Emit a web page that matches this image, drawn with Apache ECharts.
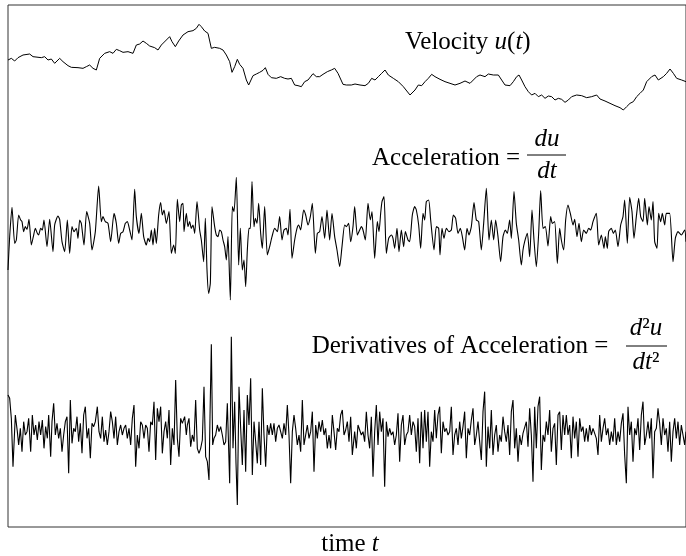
<!DOCTYPE html>
<html>
<head>
<meta charset="utf-8">
<script src="https://cdn.jsdelivr.net/npm/echarts@6.0.0/dist/echarts.min.js"></script>
<style>html,body{margin:0;padding:0;background:#fff;}#c{width:686px;height:556px;}</style>
</head>
<body>
<div id="c"></div>
<script>
// time t (arbitrary units, 0..2034) and signal values
const velocity = [[0,21],[10,26],[20,18],[30,28],[45,36],[65,39],[75,31],[100,28],[110,31],[120,21],[130,24],[140,11],[155,26],[165,16],[180,4],[190,-1],[210,-2],[225,-4],[235,1],[245,6],[255,-4],[265,-9],[275,26],[290,41],[305,46],[315,41],[325,53],[335,49],[345,44],[360,46],[375,41],[385,66],[395,69],[405,78],[415,71],[425,63],[440,58],[450,51],[460,66],[475,81],[485,91],[492,76],[502,61],[512,78],[525,96],[540,106],[555,109],[565,116],[573,128],[580,121],[590,108],[600,101],[610,56],[620,59],[635,56],[645,51],[655,36],[665,16],[672,-16],[680,1],[688,23],[695,8],[705,-4],[715,-39],[722,-54],[728,-49],[735,-26],[745,-21],[755,-16],[765,-10],[772,-2],[780,-22],[790,-32],[805,-34],[818,-29],[830,-34],[840,-36],[850,-34],[860,-54],[870,-56],[880,-59],[890,-44],[900,-39],[915,-20],[925,-29],[935,-29],[945,-22],[958,-14],[970,-9],[980,-4],[990,-19],[1005,-52],[1015,-54],[1030,-54],
[1041,-51],[1056,-54],[1071,-56],[1081,-49],[1091,-34],[1101,-39],[1111,-29],[1121,-19],[1131,-9],[1141,-24],[1156,-34],[1171,-44],[1186,-59],[1206,-84],[1221,-69],[1231,-54],[1241,-56],[1251,-44],[1261,-34],[1271,-22],[1281,-29],[1296,-37],[1311,-44],[1326,-49],[1341,-54],[1356,-49],[1371,-42],[1386,-49],[1396,-39],[1406,-29],[1416,-24],[1431,-29],[1441,-21],[1456,-24],[1471,-24],[1481,-39],[1491,-54],[1506,-56],[1516,-44],[1526,-29],[1533,-24],[1541,-39],[1551,-59],[1561,-74],[1571,-84],[1581,-79],[1591,-89],[1601,-84],[1611,-94],[1621,-87],[1631,-89],[1641,-99],[1651,-94],[1661,-97],[1671,-106],[1681,-99],[1691,-89],[1706,-84],[1721,-86],[1736,-92],[1751,-89],[1766,-84],[1776,-96],[1791,-102],[1806,-109],[1821,-116],[1836,-122],[1846,-129],[1856,-119],[1866,-109],[1876,-104],[1886,-89],[1896,-79],[1906,-69],[1916,-44],[1931,-29],[1941,-24],[1951,-39],[1966,-29],[1976,-19],[1986,-6],[1996,-19],[2006,-34],[2021,-39],[2034,-44]];

const acceleration = [[0,-90],[5,10],[12,98],[20,-10],[25,0],[32,75],[38,60],[42,55],[47,25],[52,40],[57,32],[63,62],[70,-15],[76,10],[82,35],[88,20],[92,15],[98,35],[103,30],[108,60],[117,-20],[125,62],[135,-35],[140,45],[150,72],[155,62],[162,-5],[170,-35],[178,60],[185,-40],[192,40],[198,25],[205,35],[210,5],[215,60],[220,50],[228,-15],[236,85],[245,50],[252,-30],[262,25],[272,162],[280,55],[285,70],[292,55],[300,50],[308,-5],[318,80],[325,50],[332,-10],[338,20],[345,25],[352,50],[358,55],[365,30],[372,0],[380,152],[385,70],[393,20],[400,80],[407,10],[415,-15],[420,5],[425,-5],[430,30],[435,-15],[440,35],[445,-10],[452,75],[458,112],[463,75],[468,90],[475,50],[483,85],[490,-40],[497,-15],[502,-40],[508,122],[515,55],[520,105],[525,110],
[528,25],[535,80],[540,40],[545,55],[550,35],[555,45],[560,20],[567,115],[575,30],[580,0],[587,-65],[592,65],[597,-90],[602,-160],[607,-130],[612,100],[620,40],[625,15],[630,10],[635,30],[640,25],[645,0],[650,-20],[655,-60],[660,10],[667,-180],[673,100],[678,85],[685,188],[692,-75],[697,35],[703,-90],[708,-60],[713,-140],[718,-30],[723,35],[727,35],[732,175],[738,40],[742,65],[747,50],[752,110],[758,20],[763,-25],[770,100],[778,-45],[785,-20],[792,10],[800,35],[808,25],[815,70],[822,0],[828,30],[835,35],[840,15],[846,92],[852,-55],[860,0],[867,35],[872,45],[878,30],[887,90],[893,75],[900,45],[907,70],[913,110],[922,-40],[928,20],[935,25],[942,70],[950,5],[957,90],[965,0],[972,80],[980,10],[987,-30],[995,-80],[1002,-20],[1010,45],[1015,40],[1022,50],[1028,-5],[1035,40],
[1040,100],[1048,15],[1055,30],[1060,40],[1065,30],[1072,0],[1080,110],[1087,60],[1092,85],[1100,-55],[1108,55],[1113,25],[1118,80],[1122,115],[1128,130],[1135,-40],[1142,5],[1150,15],[1155,5],[1160,-25],[1167,35],[1173,-35],[1180,30],[1187,-20],[1192,25],[1200,0],[1205,-5],[1213,75],[1220,100],[1225,90],[1232,45],[1238,-25],[1245,80],[1250,60],[1255,115],[1262,120],[1268,60],[1278,-30],[1285,40],[1292,35],[1296,-45],[1302,35],[1308,5],[1315,35],[1323,25],[1330,30],[1336,75],[1343,65],[1350,20],[1357,35],[1363,10],[1370,-30],[1377,35],[1383,15],[1390,40],[1398,112],[1405,60],[1412,55],[1420,-30],[1427,50],[1435,155],[1443,0],[1450,60],[1457,0],[1463,60],[1470,10],[1478,-65],[1485,10],[1492,30],[1498,20],[1505,60],[1510,5],[1518,145],[1525,50],[1532,0],[1540,-75],[1545,-30],
[1550,-5],[1558,20],[1565,-50],[1572,90],[1578,0],[1585,-80],[1592,20],[1598,148],[1605,35],[1612,40],[1620,-18],[1628,70],[1633,50],[1640,55],[1648,-70],[1655,35],[1660,0],[1667,-30],[1673,60],[1680,105],[1688,75],[1695,45],[1700,62],[1707,10],[1713,50],[1720,-5],[1727,30],[1735,20],[1742,35],[1748,30],[1755,55],[1765,80],[1772,-15],[1780,15],[1788,-25],[1792,10],[1798,-25],[1802,25],[1810,35],[1816,20],[1822,30],[1830,-20],[1838,45],[1845,70],[1850,120],[1858,-10],[1865,128],[1872,85],[1878,5],[1885,70],[1892,125],[1898,70],[1905,55],[1910,125],[1918,45],[1923,100],[1930,60],[1935,115],[1940,-5],[1947,-25],[1952,80],[1958,55],[1963,80],[1970,45],[1975,80],[1985,80],[1995,-65],[2002,5],[2010,25],[2020,15],[2030,30],[2034,-5]];

const jerk = [[0,135],[5,125],[10,65],[15,-80],[22,75],[28,25],[32,-15],[37,35],[42,-35],[47,55],[52,15],[57,25],[62,65],[68,-35],[73,75],[78,15],[83,45],[88,0],[93,55],[98,15],[103,60],[108,-25],[113,40],[118,5],[122,75],[128,-50],[132,55],[137,110],[142,15],[147,50],[152,5],[157,35],[162,-35],[167,15],[172,55],[177,70],[182,-100],[187,120],[192,-10],[197,35],[202,25],[207,70],[212,-5],[217,50],[222,-40],[227,75],[232,100],[237,5],[242,35],[247,-55],[252,50],[257,40],[262,55],[268,100],[273,25],[278,5],[283,70],[288,-5],[293,30],[298,-15],[303,25],[308,85],[313,55],[318,5],[323,70],[328,-15],[333,25],[338,45],[343,15],[348,35],[353,45],[358,5],[363,35],[368,-15],[373,65],[378,105],[383,-80],[388,15],[393,-25],[398,55],[403,45],[408,5],[413,45],[418,35],[423,-35],[428,55],[433,45],[438,115],[443,-60],[448,95],[453,55],[458,100],[463,-40],[468,25],[473,55],[478,5],[483,90],[488,-75],[493,35],[498,-15],[503,180],[508,5],[513,-50],[518,65],[523,50],
[530,70],[535,15],[538,45],[543,65],[548,-20],[553,15],[558,-5],[563,120],[568,-25],[573,-40],[578,-25],[583,0],[588,160],[593,-50],[598,-65],[603,-120],[606,70],[610,287],[614,-15],[618,5],[623,15],[628,45],[633,25],[638,40],[643,15],[648,-15],[653,-5],[658,110],[665,-130],[670,310],[675,-25],[680,115],[684,-70],[688,-195],[693,160],[698,35],[703,-75],[708,90],[713,-95],[718,135],[723,45],[728,185],[733,-105],[738,55],[743,-5],[748,-70],[753,55],[758,-75],[763,155],[768,15],[773,-80],[778,45],[783,15],[788,50],[793,15],[798,50],[803,-5],[808,35],[813,45],[818,25],[823,5],[828,50],[833,15],[838,105],[843,15],[848,-130],[853,25],[858,75],[863,35],[868,-15],[873,15],[878,-35],[883,120],[888,-15],[893,15],[898,45],[903,5],[908,25],[913,85],[918,-95],[923,45],[928,5],[933,55],[938,25],[943,60],[948,15],[953,35],[958,-25],[963,15],[968,-25],[973,75],[978,25],[983,-30],[988,35],[993,25],[998,75],[1003,90],[1008,15],[1013,30],[1018,55],[1023,-5],[1028,70],[1033,-45],
[1040,25],[1045,-25],[1050,45],[1055,30],[1060,15],[1065,25],[1070,-5],[1075,85],[1080,15],[1085,-25],[1090,70],[1095,-110],[1100,25],[1105,105],[1110,-15],[1115,85],[1120,25],[1125,65],[1130,-140],[1135,55],[1140,10],[1145,35],[1150,15],[1155,25],[1160,-15],[1165,15],[1170,80],[1175,-65],[1180,45],[1185,75],[1190,-15],[1195,15],[1200,25],[1205,75],[1210,15],[1215,55],[1220,40],[1225,-35],[1230,65],[1235,-70],[1240,85],[1245,-25],[1250,90],[1255,-5],[1260,85],[1265,-80],[1270,25],[1275,-5],[1280,90],[1285,5],[1290,75],[1295,100],[1300,-40],[1305,55],[1310,25],[1315,35],[1320,15],[1325,25],[1330,100],[1335,-45],[1340,15],[1345,35],[1350,-15],[1355,55],[1360,5],[1365,40],[1370,85],[1375,-55],[1380,35],[1385,15],[1390,60],[1395,95],[1400,-15],[1405,15],[1410,55],[1415,-5],[1420,-60],[1425,85],[1430,145],[1435,-80],[1440,40],[1445,-25],[1450,90],[1455,-45],[1460,15],[1465,45],[1470,-35],[1475,15],[1480,-5],[1485,70],[1490,25],[1495,-5],[1500,45],[1505,-45],[1510,85],[1515,120],[1520,-25],[1525,35],[1530,-65],[1535,15],[1540,-15],[1545,20],
[1550,25],[1555,55],[1560,-20],[1565,95],[1570,15],[1575,-125],[1580,100],[1585,-25],[1590,100],[1595,130],[1600,-90],[1605,15],[1610,-5],[1615,55],[1620,15],[1625,90],[1630,-35],[1635,35],[1640,50],[1645,-75],[1650,75],[1655,85],[1660,-30],[1665,75],[1670,15],[1675,75],[1680,15],[1685,45],[1690,-55],[1695,70],[1700,5],[1705,55],[1710,-50],[1715,65],[1720,25],[1725,40],[1730,-5],[1735,35],[1740,-5],[1745,45],[1750,15],[1755,35],[1760,40],[1765,5],[1770,-45],[1775,75],[1780,-5],[1785,35],[1790,65],[1795,15],[1800,35],[1805,-15],[1810,25],[1815,-5],[1820,65],[1825,-15],[1830,25],[1835,-5],[1840,50],[1845,80],[1850,-45],[1855,-130],[1860,100],[1865,15],[1870,55],[1875,-65],[1880,35],[1885,15],[1890,65],[1895,-30],[1900,75],[1905,115],[1910,-15],[1915,15],[1920,55],[1925,5],[1930,65],[1935,-115],[1940,25],[1945,35],[1950,95],[1955,50],[1960,-15],[1965,65],[1970,15],[1975,35],[1980,-35],[1985,55],[1990,-65],[1995,25],[2000,65],[2005,5],[2010,55],[2015,-15],[2020,45],[2025,15],[2030,-15],[2034,25]];

const labels = {
  velocity: 'Velocity',
  accel: 'Acceleration =',
  jerk: 'Derivatives of Acceleration =',
  xName: 'time'
};

const FONT = '"Liberation Serif", "Times New Roman", serif';
const FS = 25;
const chart = echarts.init(document.getElementById('c'), null, {renderer: 'canvas'});

function mkGrid(top, height) {
  return {left: 8, right: 0, top: top, height: height, outerBoundsMode: 'none', containLabel: false};
}
function mkX(i) {
  return {type: 'value', gridIndex: i, min: 0, max: 2034, show: false};
}
function mkY(i, r) {
  return {type: 'value', gridIndex: i, min: -r, max: r, show: false};
}
function mkSeries(i, data, w, smooth) {
  return {type: 'line', xAxisIndex: i, yAxisIndex: i, data: data, showSymbol: false, symbol: 'none',
    smooth: smooth || false, clip: false, silent: true, lineStyle: {color: '#000', width: w}, animation: false};
}
const rn = {fontFamily: FONT, fontSize: FS, fill: '#000'};
const ri = {fontFamily: FONT, fontSize: FS, fontStyle: 'italic', fill: '#000'};

function txt(x, y, text, align) {
  return {type: 'text', x: x, y: y, silent: true,
    style: {text: text, align: align || 'left', verticalAlign: 'middle', rich: {n: rn, i: ri}, fill: '#000', font: FS + 'px ' + FONT}};
}
function bar(x1, x2, y) {
  return {type: 'line', silent: true, shape: {x1: x1, y1: y, x2: x2, y2: y}, style: {stroke: '#000', lineWidth: 1}};
}

chart.setOption({
  animation: false,
  backgroundColor: '#fff',
  grid: [
    {left: 8, right: 0, top: 5, bottom: 29, show: true, borderColor: '#333', borderWidth: 1, backgroundColor: 'transparent', outerBoundsMode: 'none'},
    mkGrid(17, 100), mkGrid(170, 140), mkGrid(335, 210)
  ],
  xAxis: [mkX(0), mkX(1), mkX(2), mkX(3)],
  yAxis: [mkY(0, 1), mkY(1, 150), mkY(2, 210), mkY(3, 315)],
  series: [
    mkSeries(1, velocity, 1),
    mkSeries(2, acceleration, 1.1, 0.2),
    mkSeries(3, jerk, 1.1)
  ],
  graphic: [
    txt(405, 42, '{n|' + labels.velocity + ' }{i|u}{n|(}{i|t}{n|)}'),
    txt(372, 158, '{n|' + labels.accel + '}'),
    txt(547, 139, '{i|du}', 'center'),
    bar(527, 566, 155),
    txt(547, 171, '{i|dt}', 'center'),
    txt(460, 346, '{n|' + labels.jerk + '}', 'center'),
    txt(646, 328, '{i|d}{n|²}{i|u}', 'center'),
    bar(626, 667, 346),
    txt(646, 362, '{i|dt}{n|²}', 'center'),
    txt(350, 544, '{n|' + labels.xName + ' }{i|t}', 'center')
  ]
});
</script>
</body>
</html>
